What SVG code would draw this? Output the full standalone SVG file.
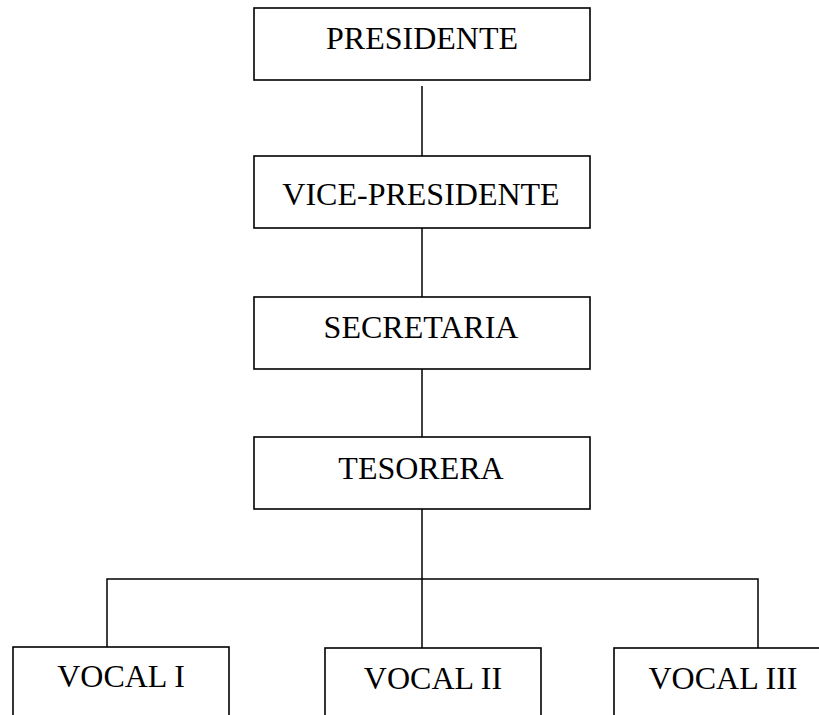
<svg xmlns="http://www.w3.org/2000/svg" width="819" height="715" viewBox="0 0 819 715">
<style>
.box{fill:#fff;stroke:#000;stroke-width:1.6}
.lbl{font-family:"Liberation Serif","Times New Roman",serif;font-size:32px;fill:#000;text-anchor:middle}
.con{stroke:#000;stroke-width:1.5;fill:none}
</style>
<rect width="819" height="715" fill="#fff"/>
<g id="connectors">
<line class="con" x1="422" y1="86" x2="422" y2="156"/>
<line class="con" x1="422" y1="228" x2="422" y2="297"/>
<line class="con" x1="422" y1="369" x2="422" y2="437"/>
<line class="con" x1="422" y1="509" x2="422" y2="648"/>
<polyline class="con" points="107,647 107,579 758,579 758,648"/>
</g>
<g id="presidente"><rect class="box" x="254" y="8" width="336" height="72"/><text class="lbl" x="422" y="49">PRESIDENTE</text></g>
<g id="vicepresidente"><rect class="box" x="254" y="156" width="336" height="72"/><text class="lbl" x="421" y="205">VICE-PRESIDENTE</text></g>
<g id="secretaria"><rect class="box" x="254" y="297" width="336" height="72"/><text class="lbl" x="421" y="338">SECRETARIA</text></g>
<g id="tesorera"><rect class="box" x="254" y="437" width="336" height="72"/><text class="lbl" x="421" y="479">TESORERA</text></g>
<g id="vocal1"><rect class="box" x="13" y="647" width="216" height="80"/><text class="lbl" x="121" y="687">VOCAL I</text></g>
<g id="vocal2"><rect class="box" x="325" y="648" width="216" height="80"/><text class="lbl" x="433" y="689">VOCAL II</text></g>
<g id="vocal3"><rect class="box" x="614" y="648" width="216" height="80"/><text class="lbl" x="723" y="689">VOCAL III</text></g>
</svg>
